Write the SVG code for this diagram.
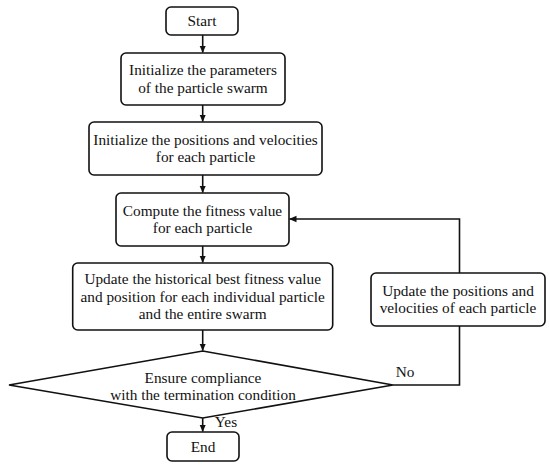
<svg xmlns="http://www.w3.org/2000/svg" width="550" height="468" viewBox="0 0 550 468">
<defs>
<marker id="arr" markerWidth="8" markerHeight="8" refX="7" refY="4" orient="auto" markerUnits="userSpaceOnUse">
<path d="M0,0.8 L7.5,4 L0,7.2 Z" fill="#111"/>
</marker>
<style>
.box{fill:#fff;stroke:#111;stroke-width:1.6}
.ln{fill:none;stroke:#111;stroke-width:1.6}
.t{font-size:15.3px;fill:#111;text-anchor:middle}
</style>
</defs>
<rect width="550" height="468" fill="#fff"/>
<g font-family="Liberation Serif, serif">
<g id="connectors">
<line class="ln" x1="202.7" y1="35" x2="202.7" y2="52.5" marker-end="url(#arr)"/>
<line class="ln" x1="202.7" y1="105" x2="202.7" y2="121.5" marker-end="url(#arr)"/>
<line class="ln" x1="202.7" y1="175" x2="202.7" y2="192.5" marker-end="url(#arr)"/>
<line class="ln" x1="202.7" y1="246" x2="202.7" y2="262.5" marker-end="url(#arr)"/>
<line class="ln" x1="202.7" y1="330" x2="202.7" y2="350.5" marker-end="url(#arr)"/>
<line class="ln" x1="202.7" y1="418" x2="202.7" y2="431.5" marker-end="url(#arr)"/>
<polyline class="ln" points="393,385 459.5,385 459.5,219 289.5,219" marker-end="url(#arr)"/>
<text class="t" x="405" y="377">No</text>
<text class="t" x="226" y="427">Yes</text>
</g>
<g id="start">
<rect class="box" x="166" y="7" width="72" height="28" rx="5"/>
<text class="t" x="202" y="26">Start</text>
</g>
<g id="init-params">
<rect class="box" x="121" y="53" width="164" height="52" rx="5"/>
<text class="t" x="203" y="75">Initialize the parameters</text>
<text class="t" x="203" y="92.5">of the particle swarm</text>
</g>
<g id="init-pos">
<rect class="box" x="89" y="122" width="233" height="53" rx="5"/>
<text class="t" x="205.5" y="144.5">Initialize the positions and velocities</text>
<text class="t" x="205.5" y="162">for each particle</text>
</g>
<g id="compute">
<rect class="box" x="116" y="193" width="173" height="53" rx="5"/>
<text class="t" x="202.5" y="215.5">Compute the fitness value</text>
<text class="t" x="202.5" y="233">for each particle</text>
</g>
<g id="update-best">
<rect class="box" x="72.7" y="263" width="260" height="67" rx="5"/>
<text class="t" x="202.7" y="284">Update the historical best fitness value</text>
<text class="t" x="202.7" y="301.5">and position for each individual particle</text>
<text class="t" x="202.7" y="319">and the entire swarm</text>
</g>
<g id="update-pos">
<rect class="box" x="371" y="273" width="174" height="53" rx="5"/>
<text class="t" x="458" y="295.5">Update the positions and</text>
<text class="t" x="458" y="313">velocities of each particle</text>
</g>
<g id="decision">
<polygon class="box" points="202.7,351 393,385 202.7,418 9,385"/>
<text class="t" x="203" y="382.5">Ensure compliance</text>
<text class="t" x="203" y="400">with the termination condition</text>
</g>
<g id="end">
<rect class="box" x="167" y="432" width="72" height="29" rx="5"/>
<text class="t" x="203" y="451.5">End</text>
</g>
</g>
</svg>
